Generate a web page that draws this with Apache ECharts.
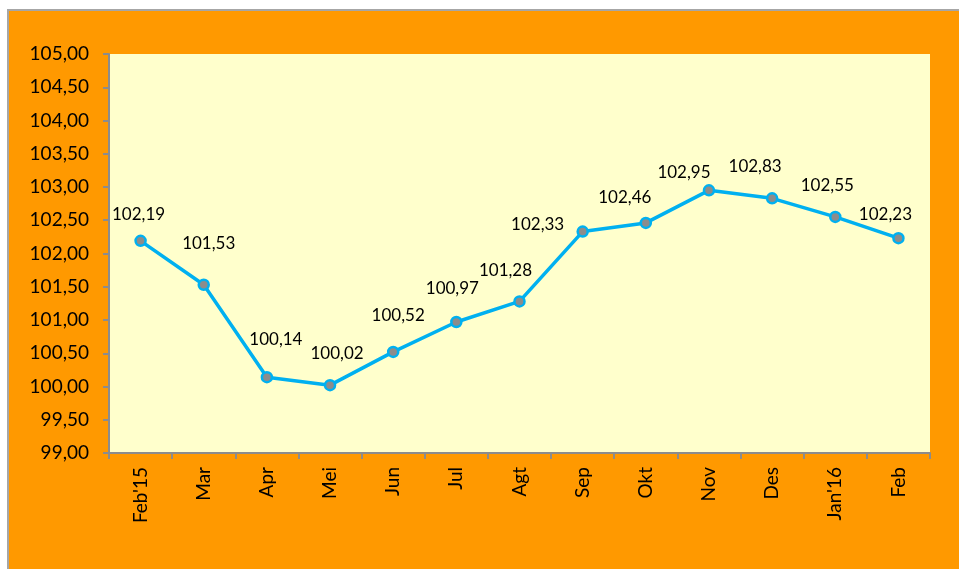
<!DOCTYPE html>
<html>
<head>
<meta charset="utf-8">
<script src="https://cdn.jsdelivr.net/npm/echarts@6/dist/echarts.min.js"></script>
<style>
  html, body { margin: 0; padding: 0; background: #fff; }
  #chart { width: 959px; height: 569px; }
</style>
</head>
<body>
<div id="chart"></div>
<script>
// data
const months = ['Feb\'15', 'Mar', 'Apr', 'Mei', 'Jun', 'Jul', 'Agt', 'Sep', 'Okt', 'Nov', 'Des', 'Jan\'16', 'Feb']
const indexValues = [102.19, 101.53, 100.14, 100.02, 100.52, 100.97, 101.28, 102.33, 102.46, 102.95, 102.83, 102.55, 102.23]
const yMin = 99
const yMax = 105
const yStep = 0.5

// label nudges, like Excel placed them
const labelOffsets = [
  [-2, -26], [5, -41], [9, -38], [7, -32], [5, -36], [-4, -33],
  [-14, -31], [-45, -7], [-21, -25], [-25, -18], [-17, -32], [-8, -31], [-13, -24]
]

const fmt = v => v.toFixed(2).replace('.', ',')

const chart = echarts.init(document.getElementById('chart'))

chart.setOption({
  animation: false,
  textStyle: { fontFamily: 'Lato' },
  graphic: [
    {
      type: 'rect',
      z: -10,
      shape: { x: 8, y: 10, width: 1000, height: 600 },
      style: { fill: '#FF9900', stroke: '#A6A6A6', lineWidth: 2 }
    },
    {
      type: 'rect',
      z: -9,
      shape: { x: 109, y: 54, width: 821, height: 399 },
      style: { fill: '#FFFFCC' }
    }
  ],
  grid: { left: 109, top: 54, right: 29, bottom: 116 },
  xAxis: {
    type: 'category',
    data: months,
    boundaryGap: true,
    axisLine: { lineStyle: { color: '#8C8C8C', width: 2 } },
    axisTick: { show: true, length: 6, lineStyle: { color: '#8C8C8C', width: 2 } },
    axisLabel: { rotate: 90, color: '#000', fontSize: 19, margin: 14 }
  },
  yAxis: {
    type: 'value',
    min: yMin,
    max: yMax,
    interval: yStep,
    splitLine: { show: false },
    axisLine: { show: true, lineStyle: { color: '#8C8C8C', width: 2 } },
    axisTick: { show: true, length: 6, lineStyle: { color: '#8C8C8C', width: 2 } },
    axisLabel: { color: '#000', fontSize: 19, margin: 20, formatter: v => fmt(v) }
  },
  series: [
    {
      type: 'line',
      data: indexValues.map((v, i) => ({
        value: v,
        label: { offset: labelOffsets[i] }
      })),
      symbol: 'circle',
      symbolSize: 10,
      lineStyle: { color: '#00B0F0', width: 3.5 },
      itemStyle: { color: '#8C8C8C', borderColor: '#00B0F0', borderWidth: 2.5 },
      label: {
        show: true,
        position: 'inside',
        color: '#000',
        fontSize: 17,
        formatter: p => fmt(p.value)
      }
    }
  ]
})
</script>
</body>
</html>
